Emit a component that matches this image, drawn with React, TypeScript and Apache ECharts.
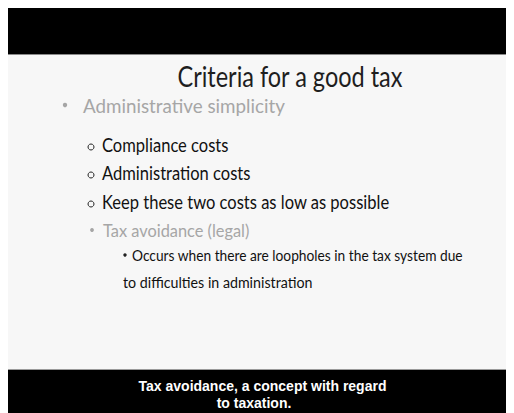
import React, { useEffect, useRef } from "react";
import * as echarts from "echarts";

const title = "Criteria for a good tax";
const level1 = ["Administrative simplicity"];
const level2 = ["Compliance costs", "Administration costs", "Keep these two costs as low as possible"];
const level2b = ["Tax avoidance (legal)"];
const level3 = ["Occurs when there are loopholes in the tax system due", "to difficulties in administration"];
const subtitles = ["Tax avoidance, a concept with regard", "to taxation."];

const FONT = "Lato";

export default function App() {
  const ref = useRef<HTMLDivElement>(null);
  useEffect(() => {
    if (!ref.current) return;
    const chart = echarts.init(ref.current, null, { renderer: "svg" });
    const els: any[] = [];
    // backgrounds
    els.push({ type: "rect", shape: { x: 0, y: 0, width: 506, height: 405 }, style: { fill: "#f7f7f7" } });
    els.push({ type: "rect", shape: { x: 0, y: 0, width: 506, height: 46 }, style: { fill: "#000" } });
    els.push({ type: "line", shape: { x1: 0, y1: 46.5, x2: 506, y2: 46.5 }, style: { stroke: "#8a8a8a", lineWidth: 1 } });
    els.push({ type: "rect", shape: { x: 0, y: 361, width: 506, height: 44 }, style: { fill: "#000" } });
    els.push({ type: "line", shape: { x1: 0, y1: 361.5, x2: 506, y2: 361.5 }, style: { stroke: "#9a9a9a", lineWidth: 1 } });

    els.push({
      type: "text", x: 282, y: 68, scaleX: 0.81,
      style: { text: title, font: `29px ${FONT}`, fill: "#1e1e1e", align: "center", verticalAlign: "middle" },
    });
    const gray = "#a6a6a6";
    els.push({ type: "circle", shape: { cx: 57, cy: 97, r: 2.2 }, style: { fill: gray } });
    els.push({
      type: "text", x: 75, y: 97, scaleX: 0.94,
      style: { text: level1[0], font: `20px ${FONT}`, fill: gray, align: "left", verticalAlign: "middle" },
    });
    const l2y = [137, 165, 194];
    level2.forEach((t, i) => {
      els.push({ type: "circle", shape: { cx: 83, cy: l2y[i] + 2, r: 3 }, style: { fill: "none", stroke: "#222", lineWidth: 1 } });
      els.push({
        type: "text", x: 94, y: l2y[i], scaleX: 0.87,
        style: { text: t, font: `19px ${FONT}`, fill: "#111", align: "left", verticalAlign: "middle" },
      });
    });
    els.push({ type: "circle", shape: { cx: 84, cy: 222, r: 1.9 }, style: { fill: gray } });
    els.push({
      type: "text", x: 95, y: 222, scaleX: 0.91,
      style: { text: level2b[0], font: `18px ${FONT}`, fill: gray, align: "left", verticalAlign: "middle" },
    });
    els.push({ type: "circle", shape: { cx: 117, cy: 247, r: 1.7 }, style: { fill: "#222" } });
    const l3 = [{ x: 124, y: 247, s: 0.86 }, { x: 115, y: 274, s: 0.89 }];
    level3.forEach((t, i) => {
      els.push({
        type: "text", x: l3[i].x, y: l3[i].y, scaleX: l3[i].s,
        style: { text: t, font: `16px ${FONT}`, fill: "#111", align: "left", verticalAlign: "middle" },
      });
    });
    const sub = [{ x: 254.5, y: 378 }, { x: 246, y: 395 }];
    subtitles.forEach((t, i) => {
      els.push({
        type: "text", x: sub[i].x, y: sub[i].y,
        style: { text: t, font: `bold 14px "Liberation Sans"`, fill: "#fff", align: "center", verticalAlign: "middle" },
      });
    });

    chart.setOption({ animation: false, graphic: { elements: els } });
    return () => chart.dispose();
  }, []);
  return <div ref={ref} style={{ width: 506, height: 405 }} />;
}
